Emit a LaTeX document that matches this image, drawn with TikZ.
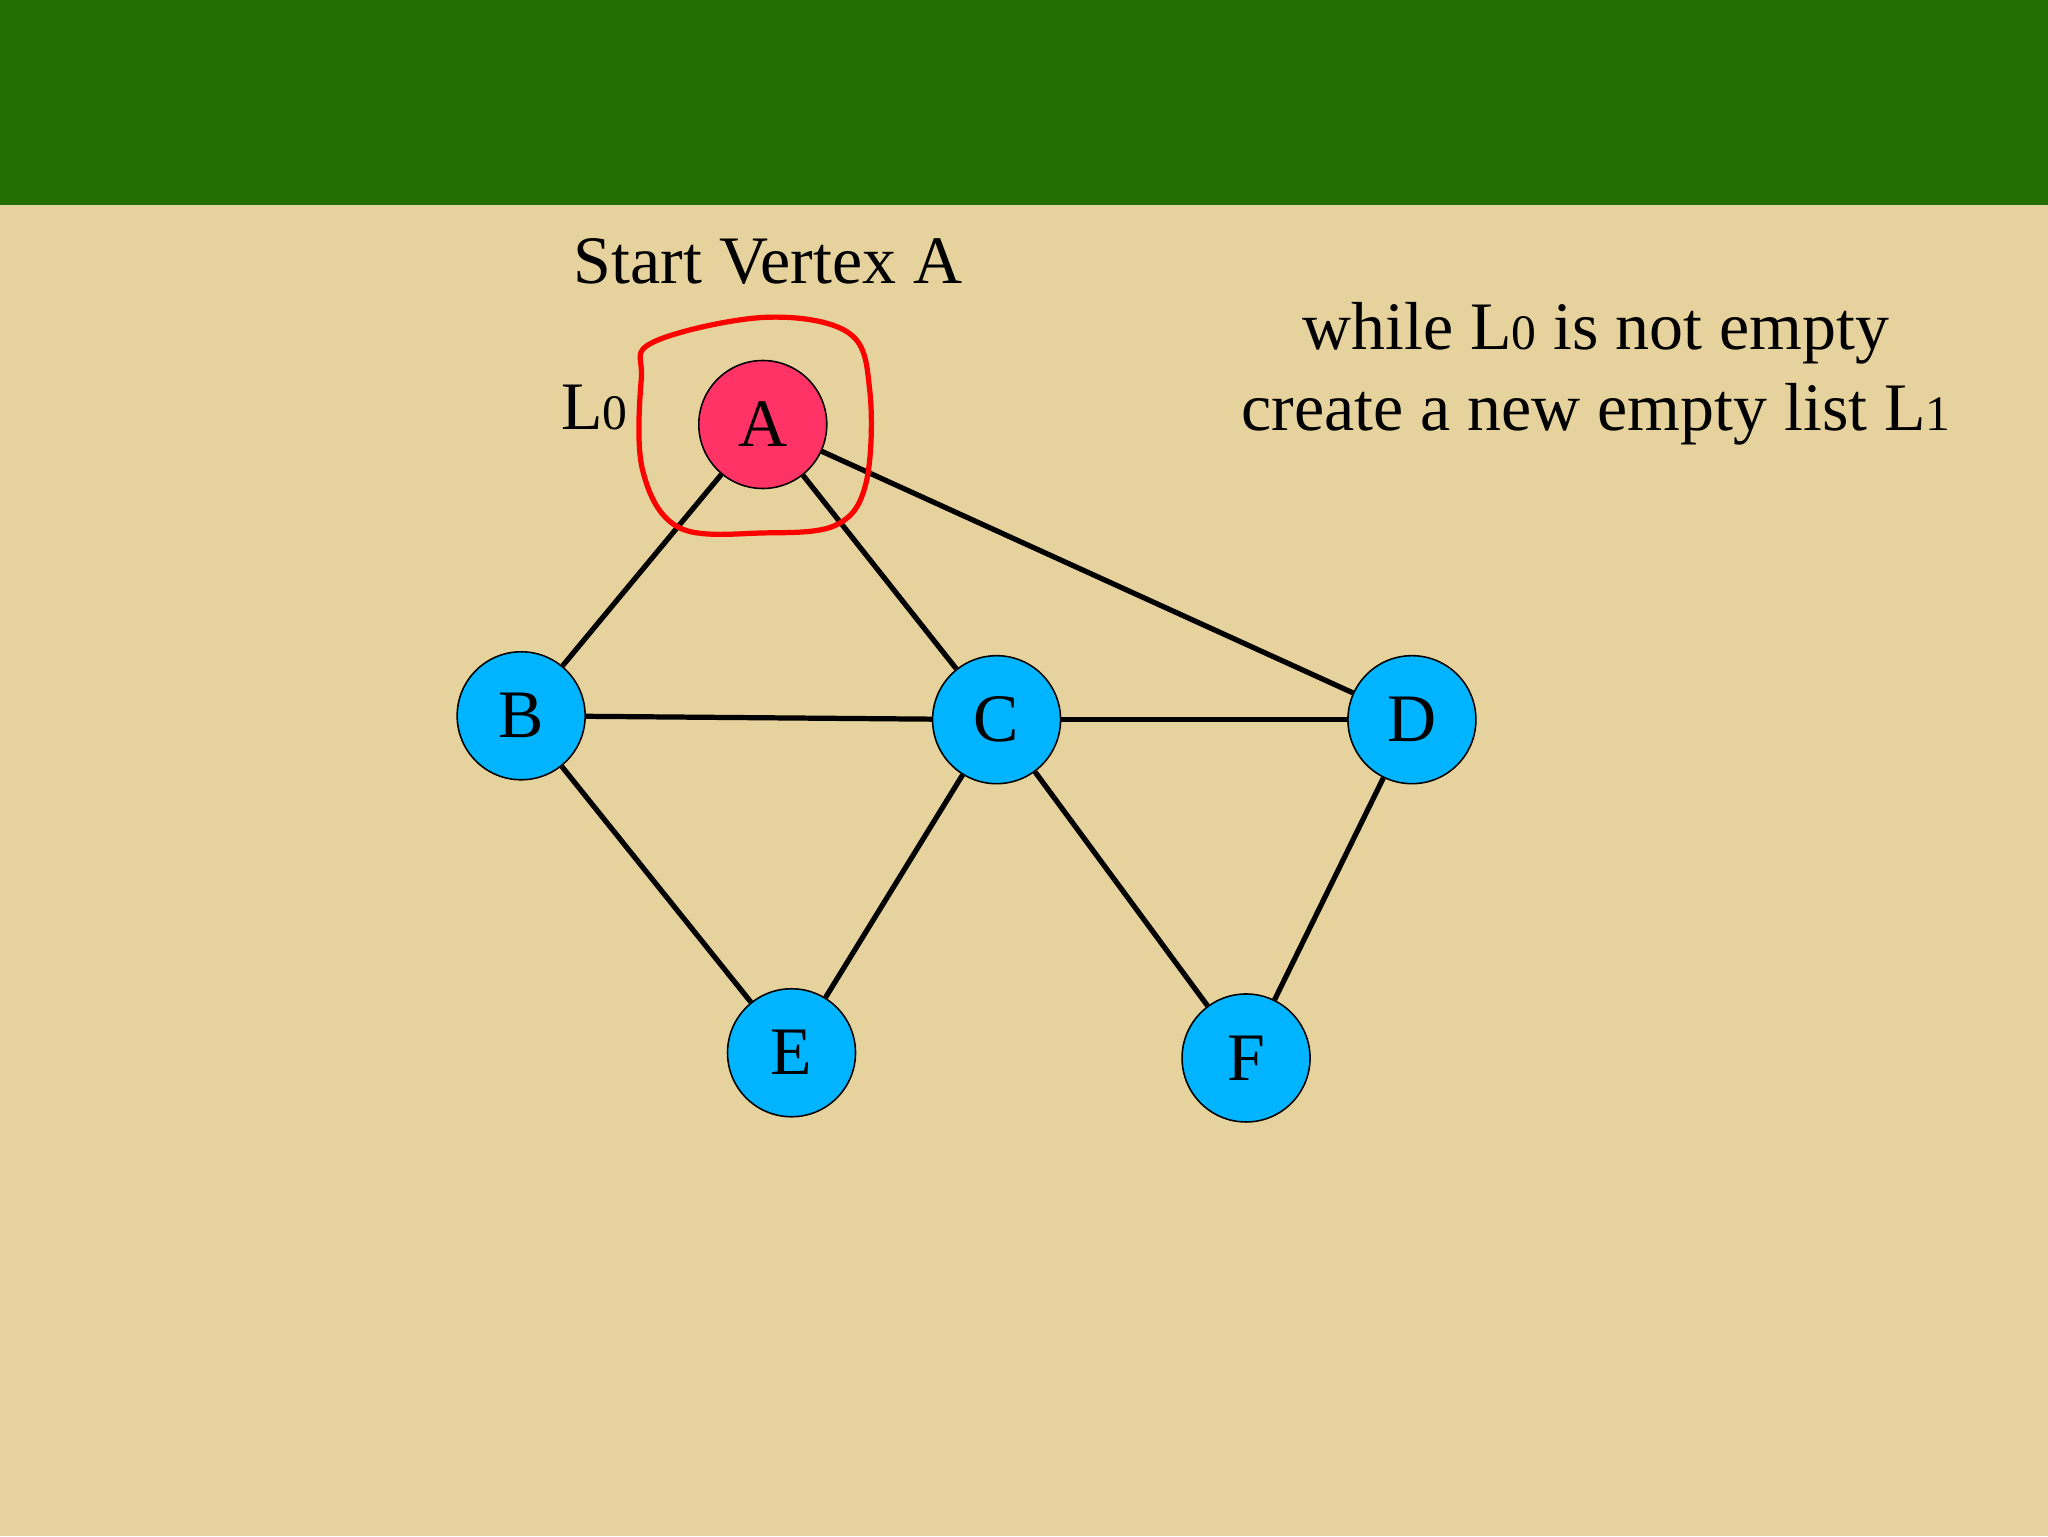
\documentclass[tikz,border=0pt]{standalone}
\usepackage{fontspec}
\setmainfont{Liberation Serif}
\definecolor{bg}{HTML}{E6D29C}
\definecolor{band}{HTML}{216E05}
\definecolor{rednode}{HTML}{FF3366}
\definecolor{bluenode}{HTML}{00B4FF}
\newcommand{\sm}[1]{{\fontsize{38}{40}\selectfont #1}}
\begin{document}
\begin{tikzpicture}[x=1pt,y=-1pt,
  vert/.style={circle,draw=black,line width=1.2pt,minimum size=98pt,inner sep=0pt,font=\fontsize{52}{56}\selectfont},
  edge/.style={line width=4pt},
  txt/.style={font=\fontsize{52}{60}\selectfont,inner sep=0pt}]
\fill[bg] (0,0) rectangle (1568,1176);
\fill[band] (0,0) rectangle (1568,157);
\useasboundingbox (0,0) rectangle (1568,1176);
\node[vert,fill=rednode] (A) at (584,325) {A};
\node[vert,fill=bluenode] (B) at (399,548) {B};
\node[vert,fill=bluenode] (C) at (763,551) {C};
\node[vert,fill=bluenode] (D) at (1081,551) {D};
\node[vert,fill=bluenode] (E) at (606,806) {E};
\node[vert,fill=bluenode] (F) at (954,810) {F};
\foreach \a/\b in {A/B,A/C,A/D,B/C,C/D,B/E,C/E,C/F,D/F}
  \draw[edge] (\a) -- (\b);
\draw[red,line width=4pt,line join=round] plot[smooth cycle,tension=0.6] coordinates
  {(500,262) (585,243) (650,255) (666,300) (663,370) (640,402) (585,408) (520,404) (492,360) (491,290)};
\node[txt] (t1) at (588,200) {Start Vertex A};
\node[txt] (l0) at (455,312) {L\sm{0}};
\node[txt] (w1) at (1222,255) {while L\sm{0} is not empty};
\node[txt] (w2) at (1222,317) {create a new empty list L\sm{1}};
\end{tikzpicture}
\end{document}
